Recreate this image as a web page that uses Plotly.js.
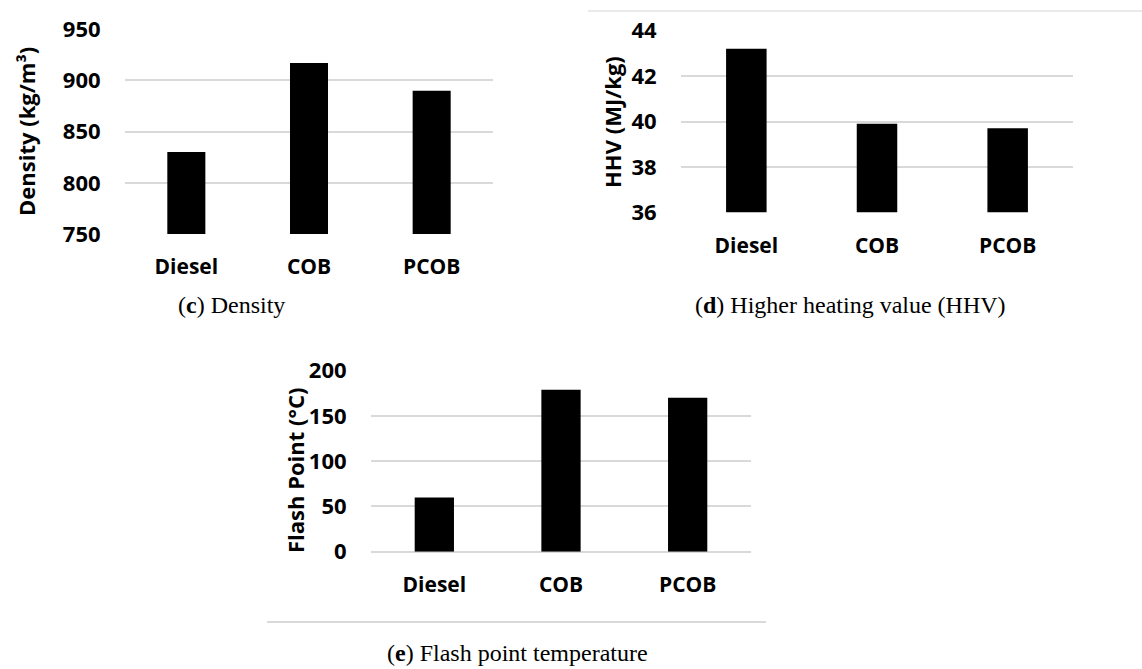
<!DOCTYPE html>
<html>
<head>
<meta charset="utf-8">
<script src="https://cdn.plot.ly/plotly-3.0.1.min.js"></script>
<style>html,body{margin:0;padding:0;background:#fff;}#chart{width:1142px;height:669px;}</style>
</head>
<body>
<div id="chart"></div>
<script>
const categories = ["Diesel", "COB", "PCOB"];
const densityValues = [830, 917, 890];
const hhvValues = [43.2, 39.9, 39.7];
const flashPointValues = [60, 179, 170];
const densityTicks = [750, 800, 850, 900, 950];
const hhvTicks = [36, 38, 40, 42, 44];
const flashTicks = [0, 50, 100, 150, 200];

const W = 1142, H = 669;
const px = x => x / W;
const py = y => 1 - y / H;

const barStyle = {type: 'bar', marker: {color: '#000000', line: {color: '#000000', width: 0}}, hoverinfo: 'x+y', showlegend: false};

const data = [
  Object.assign({}, barStyle, {x: categories, y: densityValues, xaxis: 'x', yaxis: 'y'}),
  Object.assign({}, barStyle, {x: categories, y: hhvValues, xaxis: 'x2', yaxis: 'y2'}),
  Object.assign({}, barStyle, {x: categories, y: flashPointValues, xaxis: 'x3', yaxis: 'y3'})
];

const yTickFont = {family: 'Open Sans, Noto Sans, sans-serif', size: 22, color: '#000', weight: 'bold'};
const xTickFont = {family: 'Open Sans, Noto Sans, sans-serif', size: 21, color: '#000', weight: 'bold'};
const gridColor = '#d9d9d9';

function xAxis(domain, anchor) {
  return {domain: domain, anchor: anchor, type: 'category', showgrid: false, zeroline: false, showline: false,
    ticks: 'outside', ticklen: 14, tickcolor: 'rgba(0,0,0,0)', tickfont: xTickFont, fixedrange: true};
}
function yAxis(domain, anchor, range, ticks) {
  return {domain: domain, anchor: anchor, range: range, tickvals: ticks, ticktext: ticks.map(String),
    showgrid: true, gridcolor: gridColor, gridwidth: 2, zeroline: true, zerolinecolor: gridColor, zerolinewidth: 2,
    showline: false, ticks: 'outside', ticklen: 19, tickcolor: 'rgba(0,0,0,0)', tickfont: yTickFont, fixedrange: true};
}

const axisTitleFont = {family: 'Open Sans, Noto Sans, sans-serif', size: 22, color: '#000', weight: 'bold'};
const captionFont = {family: 'Liberation Serif, DejaVu Serif, serif', size: 24, color: '#000'};

const layout = {
  width: W, height: H,
  margin: {l: 0, r: 0, t: 0, b: 0},
  paper_bgcolor: '#fff', plot_bgcolor: '#fff',
  bargap: 0.69,
  showlegend: false,
  xaxis: xAxis([px(125), px(493)], 'y'),
  yaxis: yAxis([py(234), py(29.3)], 'x', [750, 950], densityTicks),
  xaxis2: xAxis([px(681), px(1073)], 'y2'),
  yaxis2: yAxis([py(212.3), py(30.7)], 'x2', [36, 44], hhvTicks),
  xaxis3: xAxis([px(371), px(751)], 'y3'),
  yaxis3: yAxis([py(551.7), py(370.7)], 'x3', [0, 200], flashTicks),
  shapes: [
    {type: 'line', xref: 'paper', yref: 'paper', x0: px(588), x1: px(1142), y0: py(11), y1: py(11), line: {color: '#e3e3e3', width: 1.5}},
    {type: 'line', xref: 'paper', yref: 'paper', x0: px(267), x1: px(766), y0: py(622), y1: py(622), line: {color: '#d9d9d9', width: 2}}
  ],
  annotations: [
    {text: 'Density (kg/m³)', textangle: -90, xref: 'paper', yref: 'paper', x: px(26), y: py(132), showarrow: false, font: axisTitleFont, xanchor: 'center', yanchor: 'middle'},
    {text: 'HHV (MJ/kg)', textangle: -90, xref: 'paper', yref: 'paper', x: px(612), y: py(122), showarrow: false, font: axisTitleFont, xanchor: 'center', yanchor: 'middle'},
    {text: 'Flash Point (°C)', textangle: -90, xref: 'paper', yref: 'paper', x: px(295), y: py(471), showarrow: false, font: axisTitleFont, xanchor: 'center', yanchor: 'middle'},
    {text: '(<b>c</b>) Density', xref: 'paper', yref: 'paper', x: px(231), y: py(305), showarrow: false, font: captionFont, xanchor: 'center', yanchor: 'middle'},
    {text: '(<b>d</b>) Higher heating value (HHV)', xref: 'paper', yref: 'paper', x: px(850), y: py(305), showarrow: false, font: captionFont, xanchor: 'center', yanchor: 'middle'},
    {text: '(<b>e</b>) Flash point temperature', xref: 'paper', yref: 'paper', x: px(517), y: py(653), showarrow: false, font: captionFont, xanchor: 'center', yanchor: 'middle'}
  ]
};

Plotly.newPlot('chart', data, layout, {displayModeBar: false, staticPlot: true});
</script>
</body>
</html>
